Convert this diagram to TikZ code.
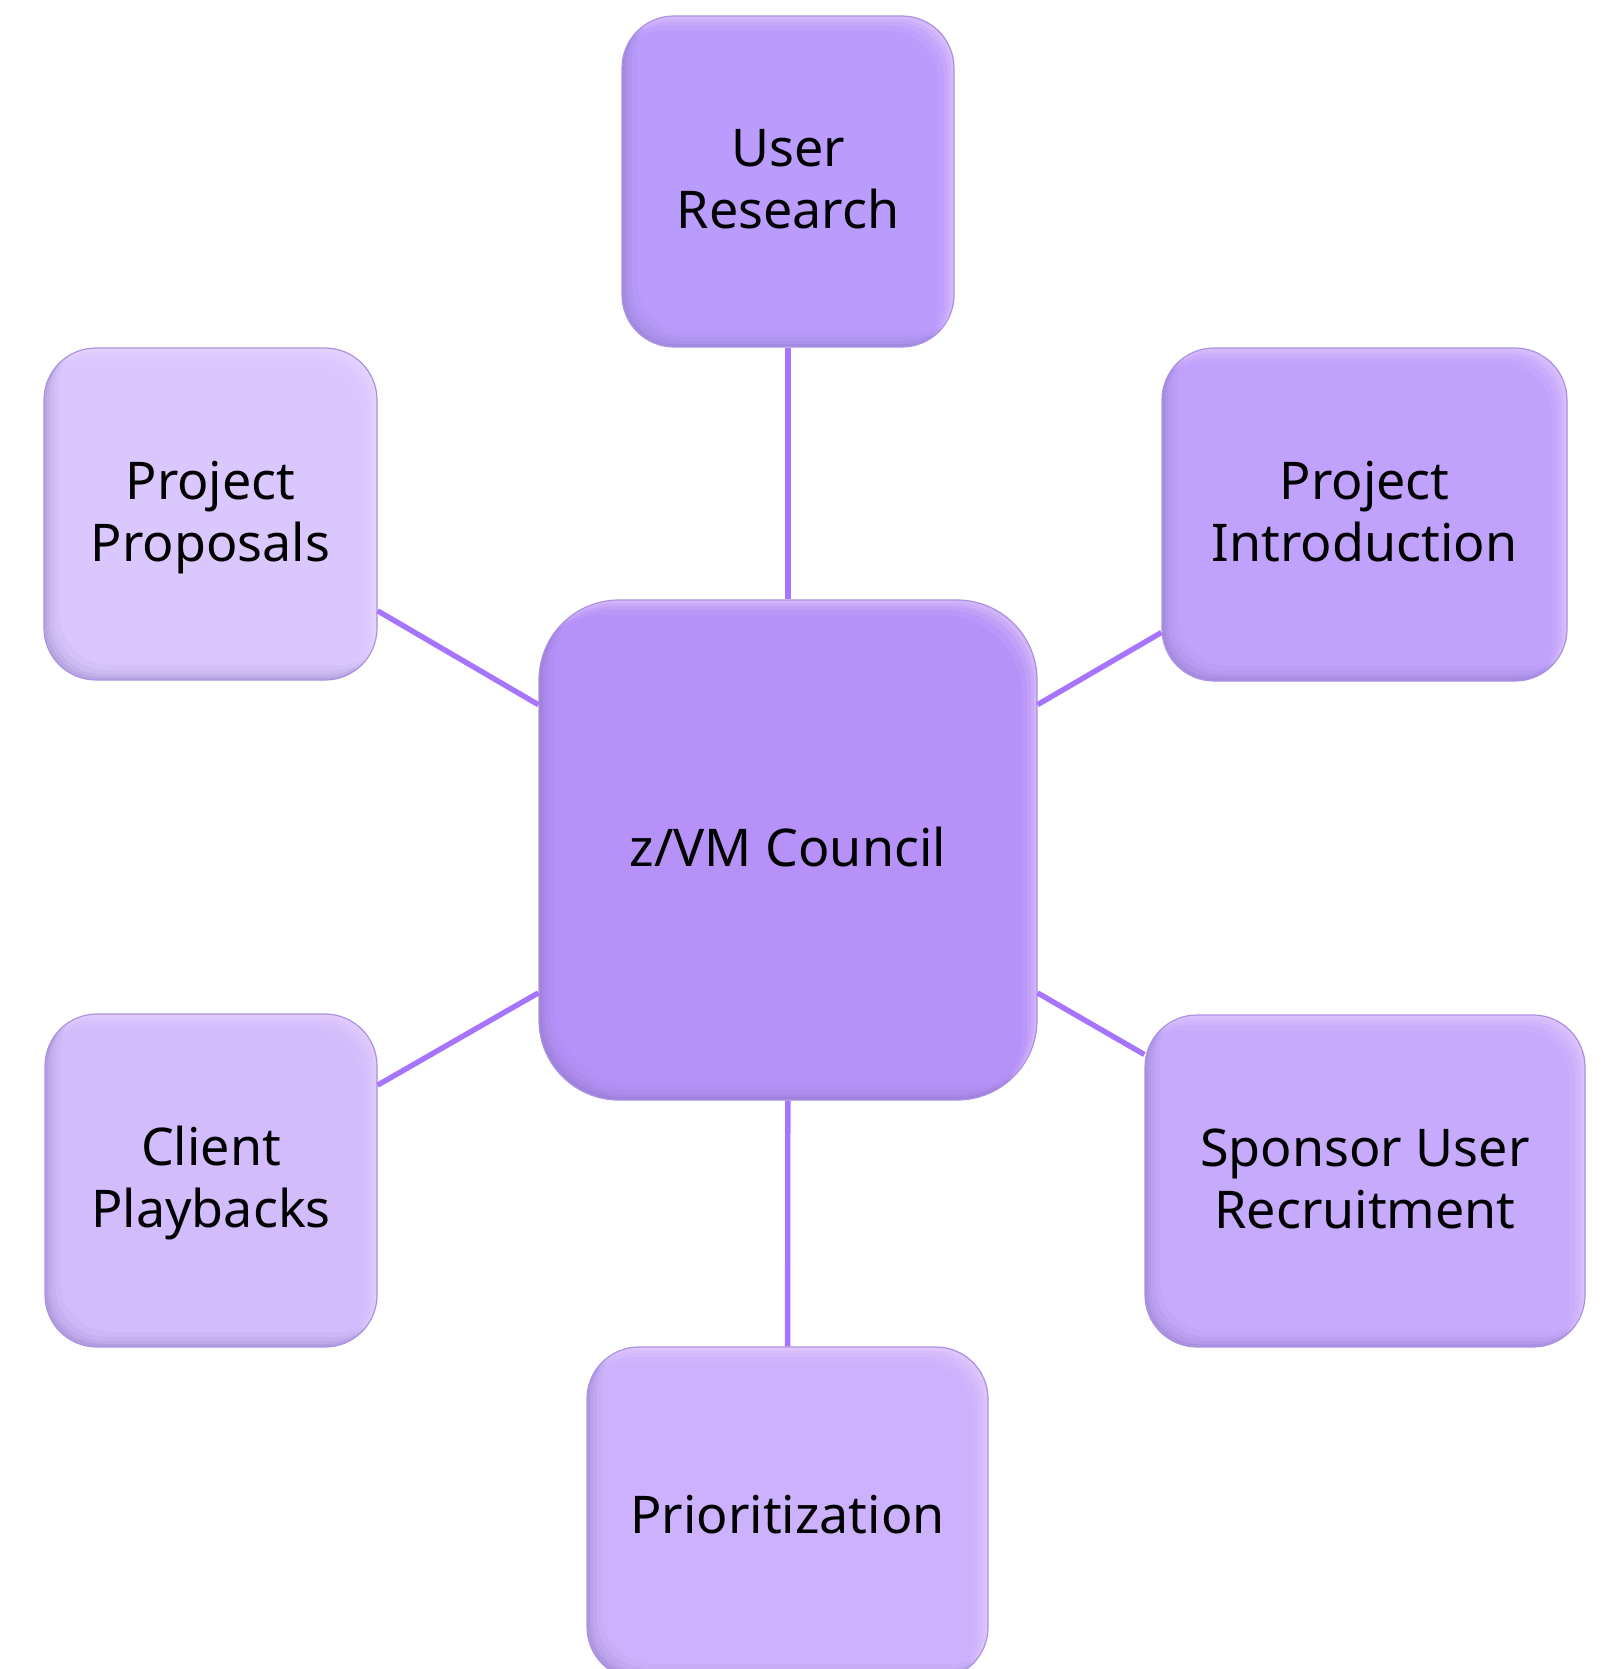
\documentclass[tikz,border=0pt]{standalone}
\usepackage{fontspec}
\setmainfont{Noto Sans}
\usetikzlibrary{calc}
\definecolor{cUR}{RGB}{186,156,252}
\definecolor{cC}{RGB}{182,146,248}
\definecolor{cPI}{RGB}{192,162,252}
\definecolor{cSU}{RGB}{198,170,252}
\definecolor{cPR}{RGB}{204,178,252}
\definecolor{cCP}{RGB}{210,188,252}
\definecolor{cPP}{RGB}{217,199,254}
\definecolor{link}{RGB}{166,116,254}
\definecolor{shadowc}{RGB}{120,100,170}
\definecolor{lightc}{RGB}{245,222,255}
\definecolor{edgec}{RGB}{170,145,225}
\def\bevr{26pt}
\newcommand\bevelfx{%
  \foreach \d/\o in {1.5/0.14,3/0.10,5/0.08,7.5/0.05}{%
    \fill[shadowc, fill opacity=\o, even odd rule, sharp corners]
      ($(path picture bounding box.south west)+(-40pt,-40pt)$) rectangle ($(path picture bounding box.north east)+(40pt,40pt)$)
      [rounded corners=\bevr] ($(path picture bounding box.south west)+(\d pt,\d pt)$) rectangle ($(path picture bounding box.north east)+(\d pt,\d pt)$);
    \fill[lightc, fill opacity=\o*1.6, even odd rule, sharp corners]
      ($(path picture bounding box.south west)+(-40pt,-40pt)$) rectangle ($(path picture bounding box.north east)+(40pt,40pt)$)
      [rounded corners=\bevr] ($(path picture bounding box.south west)+(-\d pt,-\d pt)$) rectangle ($(path picture bounding box.north east)+(-\d pt,-\d pt)$);
  }%
}
\tikzset{
  card/.style={rectangle, inner sep=0pt, align=center,
    font=\fontsize{26}{31}\selectfont, text=black,
    rounded corners=\bevr, draw=edgec, line width=0.6pt,
    path picture={\bevelfx}},
  oneline/.style={text height=20pt, text depth=0pt},
  twoline/.style={text height=47pt, text depth=0pt},
  bigcard/.style={card, /utils/exec={\def\bevr{40pt}}, rounded corners=40pt},
  conn/.style={draw=link, line width=2.7pt}
}
\begin{document}
\begin{tikzpicture}[x=0.5pt,y=-0.5pt]
\useasboundingbox (0,0) rectangle (1603,1669);
\node[bigcard, oneline, text height=16pt, fill=cC, minimum width=249pt, minimum height=250pt] (C) at (788,850) {z/VM Council};
\node[card, twoline, fill=cUR, minimum width=166pt, minimum height=165.5pt] (UR) at (788,181.5) {User\\Research};
\node[card, twoline, fill=cPP, minimum width=166.5pt, minimum height=166pt] (PP) at (210.5,514) {Project\\Proposals};
\node[card, twoline, fill=cPI, minimum width=202.5pt, minimum height=166.5pt] (PI) at (1364.5,514.5) {Project\\Introduction};
\node[card, twoline, fill=cCP, minimum width=166pt, minimum height=166.5pt] (CP) at (211,1180.5) {Client\\Playbacks};
\node[card, twoline, fill=cSU, minimum width=220pt, minimum height=166pt] (SU) at (1365,1181) {Sponsor User\\Recruitment};
\node[card, oneline, fill=cPR, minimum width=200.5pt, minimum height=166pt] (PR) at (787.5,1513) {Prioritization};
\draw[conn] (C) -- (UR);
\draw[conn] (C) -- (PP);
\draw[conn] (C) -- (PI);
\draw[conn] (C) -- (CP);
\draw[conn] (C) -- (SU);
\draw[conn] (C) -- (PR);
\end{tikzpicture}
\end{document}
